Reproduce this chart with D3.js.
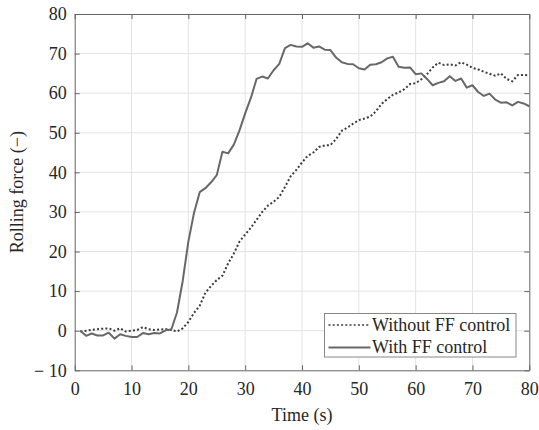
<!DOCTYPE html>
<html>
<head>
<meta charset="utf-8">
<script src="https://cdn.jsdelivr.net/npm/d3@7"></script>
<style>
  body { margin: 0; background: #fff; }
  svg { display: block; font-family: "Liberation Serif", "DejaVu Serif", serif; }
</style>
</head>
<body>
<svg id="chart" width="539" height="430"></svg>
<script>
// time axis (s)
var timeS = [1,2,3,4,5,6,7,8,9,10,11,12,13,14,15,16,17,18,19,20,
  21,22,23,24,25,26,27,28,29,30,31,32,33,34,35,36,37,38,39,40,
  41,42,43,44,45,46,47,48,49,50,51,52,53,54,55,56,57,58,59,60,
  61,62,63,64,65,66,67,68,69,70,71,72,73,74,75,76,77,78,79,80];

// rolling force without feed-forward
var withoutFF = [-0.2,0,0.2,0.4,0.5,0.6,0,0.6,-0.2,0,0.2,0.9,0.4,0.2,0.3,0.4,0.2,-0.2,0.6,2.2,
  4.5,6.3,9.6,11.3,12.8,13.9,17,19.5,22.5,24.3,26,28,30,31.6,32.6,33.8,36.3,39,40.6,42.5,
  44.2,45,46.4,46.8,46.9,48.4,50.5,51.3,52.3,53.2,53.6,54.1,55.4,57.3,58.5,59.6,60.2,61,62.3,62.5,
  63.5,64.8,66.5,67.7,67.1,67.3,67,67.8,67.2,66.4,66,65.4,64.9,64.4,65,63.6,63,64.6,64.6,64.5];

// rolling force with feed-forward
var withFF = [0,-1.3,-0.7,-1.2,-1.2,-0.5,-2,-0.9,-1.3,-1.6,-1.6,-0.6,-0.9,-0.6,-0.7,0.1,0.3,4.6,12.5,22.5,
  29.8,35,36,37.5,39.3,45.2,44.8,47,50.6,54.9,58.8,63.6,64.2,63.7,65.8,67.4,71.4,72.2,71.8,71.7,
  72.6,71.5,71.8,71,70.9,69,67.8,67.4,67.3,66.3,66,67.2,67.3,67.8,68.8,69.2,66.7,66.4,66.5,64.8,
  65,63.6,62,62.6,63,64.3,63.1,63.7,61.4,62,60.3,59.3,59.9,58.4,57.6,57.7,56.9,57.8,57.4,56.7];

var xTicks = [0,10,20,30,40,50,60,70,80];
var yTicks = [-10,0,10,20,30,40,50,60,70,80];
var seriesNames = ["Without FF control", "With FF control"];

var svg = d3.select("#chart");
var margin = {left: 74.7, right: 539 - 529.3, top: 14, bottom: 430 - 370.3};
var W = 539 - margin.left - margin.right,
    H = 430 - margin.top - margin.bottom;

var x = d3.scaleLinear().domain([0, 80]).range([0, W]);
var y = d3.scaleLinear().domain([-10, 80]).range([H, 0]);

var g = svg.append("g").attr("transform", `translate(${margin.left},${margin.top})`);

// grid
g.append("g")
  .selectAll("line.vx")
  .data(xTicks.slice(1, -1))
  .join("line")
    .attr("x1", d => x(d)).attr("x2", d => x(d))
    .attr("y1", 0).attr("y2", H)
    .attr("stroke", "#e3e3e3").attr("stroke-width", 1);
g.append("g")
  .selectAll("line")
  .data(yTicks.slice(1, -1))
  .join("line")
    .attr("y1", d => y(d)).attr("y2", d => y(d))
    .attr("x1", 0).attr("x2", W)
    .attr("stroke", "#e3e3e3").attr("stroke-width", 1);

// axes, ticks pointing inwards (box style)
var fmt = d => d < 0 ? "\u2212 " + Math.abs(d) : d;
var axisColor = "#666";

g.append("g")
  .attr("transform", `translate(0,${H})`)
  .call(d3.axisBottom(x).tickValues(xTicks).tickSizeInner(-5).tickSizeOuter(0).tickPadding(12).tickFormat(fmt))
  .call(a => a.select(".domain").attr("stroke", axisColor))
  .call(a => a.selectAll(".tick line").attr("stroke", axisColor))
  .call(a => a.selectAll("text").attr("font-size", 18).attr("fill", "#262626").attr("font-family", "Liberation Serif"));

g.append("g")
  .call(d3.axisLeft(y).tickValues(yTicks).tickSizeInner(-5).tickSizeOuter(0).tickPadding(8).tickFormat(fmt))
  .call(a => a.select(".domain").attr("stroke", axisColor))
  .call(a => a.selectAll(".tick line").attr("stroke", axisColor))
  .call(a => a.selectAll("text").attr("font-size", 18).attr("fill", "#262626").attr("font-family", "Liberation Serif"));

g.append("g")
  .call(d3.axisTop(x).tickValues(xTicks).tickSizeInner(-5).tickSizeOuter(0).tickFormat(""))
  .call(a => a.select(".domain").attr("stroke", axisColor))
  .call(a => a.selectAll(".tick line").attr("stroke", axisColor));

g.append("g")
  .attr("transform", `translate(${W},0)`)
  .call(d3.axisRight(y).tickValues(yTicks).tickSizeInner(-5).tickSizeOuter(0).tickFormat(""))
  .call(a => a.select(".domain").attr("stroke", axisColor))
  .call(a => a.selectAll(".tick line").attr("stroke", axisColor));

// lines
var line = vals => d3.line()
  .x((d, i) => x(timeS[i]))
  .y(d => y(d))(vals);

g.append("path")
  .attr("d", line(withoutFF))
  .attr("fill", "none")
  .attr("stroke", "#3c3c3c")
  .attr("stroke-width", 2)
  .attr("stroke-dasharray", "2,2.2");

g.append("path")
  .attr("d", line(withFF))
  .attr("fill", "none")
  .attr("stroke", "#686868")
  .attr("stroke-width", 2)
  .attr("stroke-linejoin", "round");

// axis labels
svg.append("text")
  .attr("x", margin.left + W / 2)
  .attr("y", 421)
  .attr("text-anchor", "middle")
  .attr("font-size", 18)
  .attr("fill", "#262626")
  .text("Time (s)");

svg.append("text")
  .attr("transform", `translate(23,${margin.top + H / 2}) rotate(-90)`)
  .attr("text-anchor", "middle")
  .attr("font-size", 18)
  .attr("fill", "#262626")
  .text("Rolling force (\u2212)");

// legend
var leg = svg.append("g").attr("transform", "translate(324.5,313.5)");
leg.append("rect")
  .attr("width", 191.5).attr("height", 43.5)
  .attr("fill", "#fff").attr("stroke", "#888").attr("stroke-width", 1);

var styles = [{c: "#3c3c3c", dash: "2,2.2"}, {c: "#686868", dash: null}];
seriesNames.forEach(function (name, i) {
  var row = leg.append("g").attr("transform", `translate(0,${11.5 + i * 22.5})`);
  row.append("line")
    .attr("x1", 4).attr("x2", 46)
    .attr("stroke", styles[i].c).attr("stroke-width", i ? 2 : 1.5)
    .attr("stroke-dasharray", styles[i].dash);
  row.append("text")
    .attr("x", 47.5).attr("y", 0).attr("dy", "0.33em")
    .attr("font-size", 18).attr("fill", "#262626")
    .text(name);
});
</script>
</body>
</html>
